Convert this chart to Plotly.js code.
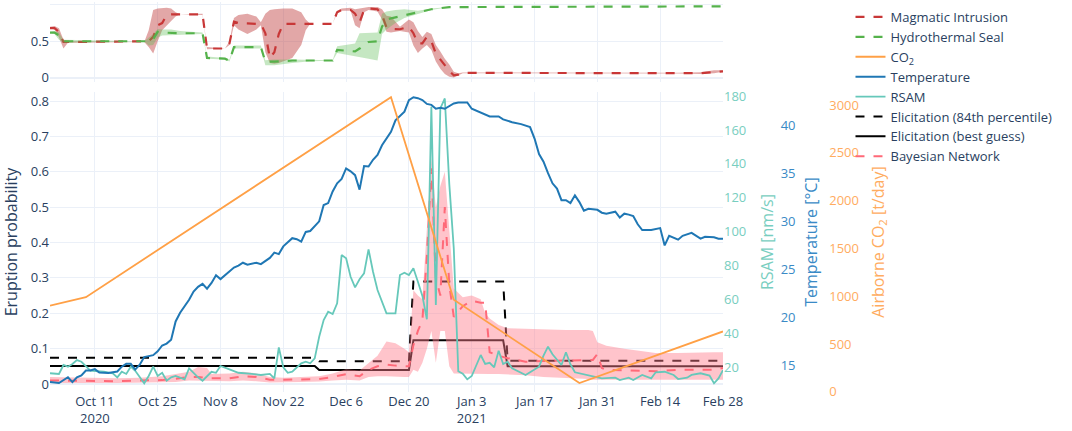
<!DOCTYPE html>
<html><head><meta charset="utf-8">
<script src="https://cdn.plot.ly/plotly-3.0.1.min.js"></script>
<style>html,body{margin:0;padding:0;background:#fff}</style>
</head><body>
<div id="chart" style="width:1072px;height:431px"></div>
<script>
// ---------- Top panel: hypotheses ----------
const magDates = ['2020-10-01','2020-10-02','2020-10-03','2020-10-04','2020-10-05','2020-10-22','2020-10-23','2020-10-24','2020-10-25','2020-10-26','2020-10-27','2020-10-28','2020-10-29','2020-10-30','2020-11-04','2020-11-05','2020-11-09','2020-11-10','2020-11-11','2020-11-12','2020-11-14','2020-11-16','2020-11-17','2020-11-18','2020-11-19','2020-11-20','2020-11-21','2020-11-22','2020-11-24','2020-11-26','2020-11-27','2020-11-28','2020-12-03','2020-12-04','2020-12-05','2020-12-07','2020-12-08','2020-12-09','2020-12-10','2020-12-11','2020-12-13','2020-12-14','2020-12-15','2020-12-16','2020-12-18','2020-12-20','2020-12-21','2020-12-22','2020-12-23','2020-12-24','2020-12-25','2020-12-26','2020-12-27','2020-12-28','2020-12-29','2020-12-30','2020-12-31','2021-01-01','2021-02-18','2021-02-23','2021-02-26','2021-02-28'];
const magMed = [0.68,0.68,0.63,0.49,0.49,0.49,0.50,0.56,0.72,0.75,0.86,0.87,0.87,0.87,0.87,0.40,0.40,0.47,0.77,0.75,0.74,0.74,0.74,0.61,0.27,0.35,0.60,0.74,0.74,0.74,0.74,0.74,0.74,0.90,0.93,0.93,0.88,0.76,0.93,0.95,0.94,0.86,0.69,0.67,0.665,0.70,0.61,0.47,0.47,0.56,0.50,0.33,0.25,0.17,0.09,0.03,0.04,0.065,0.06,0.06,0.075,0.085];
const magLo = [0.68,0.66,0.55,0.40,0.48,0.49,0.42,0.33,0.50,0.65,0.72,0.78,0.84,0.87,0.86,0.39,0.40,0.45,0.72,0.66,0.60,0.66,0.72,0.35,0.20,0.19,0.20,0.22,0.27,0.45,0.65,0.74,0.74,0.89,0.92,0.92,0.72,0.68,0.90,0.93,0.91,0.80,0.63,0.62,0.64,0.62,0.44,0.34,0.40,0.45,0.38,0.22,0.12,0.05,0.01,0.0,0.03,0.06,0.055,0.05,0.06,0.08];
const magHi = [0.70,0.71,0.68,0.52,0.50,0.49,0.65,0.93,0.95,0.96,0.96,0.95,0.90,0.87,0.88,0.42,0.40,0.50,0.82,0.86,0.88,0.84,0.76,0.88,0.93,0.94,0.95,0.95,0.95,0.90,0.80,0.74,0.74,0.92,0.95,0.96,0.94,0.95,0.97,0.97,0.97,0.94,0.85,0.84,0.70,0.80,0.76,0.64,0.56,0.63,0.60,0.45,0.36,0.26,0.18,0.08,0.06,0.07,0.065,0.075,0.10,0.10];

const hydDates = ['2020-10-01','2020-10-02','2020-10-03','2020-10-04','2020-10-22','2020-10-23','2020-10-24','2020-10-25','2020-10-26','2020-10-28','2020-10-30','2020-11-04','2020-11-05','2020-11-09','2020-11-10','2020-11-11','2020-11-17','2020-11-18','2020-11-20','2020-11-24','2020-11-28','2020-12-03','2020-12-04','2020-12-06','2020-12-08','2020-12-09','2020-12-11','2020-12-13','2020-12-14','2020-12-15','2020-12-17','2020-12-19','2020-12-22','2020-12-25','2020-12-29','2021-02-26','2021-02-28'];
const hydMed = [0.62,0.62,0.58,0.50,0.50,0.50,0.53,0.63,0.62,0.61,0.61,0.61,0.27,0.26,0.23,0.42,0.42,0.22,0.22,0.235,0.235,0.235,0.38,0.37,0.36,0.40,0.49,0.50,0.70,0.80,0.83,0.86,0.90,0.94,0.97,0.97,0.98];
const hydLo = [0.62,0.60,0.52,0.48,0.50,0.44,0.45,0.55,0.58,0.58,0.59,0.60,0.26,0.25,0.22,0.40,0.40,0.17,0.17,0.20,0.225,0.23,0.34,0.32,0.30,0.28,0.26,0.235,0.60,0.66,0.75,0.82,0.88,0.93,0.97,0.97,0.98];
const hydHi = [0.63,0.64,0.62,0.52,0.50,0.55,0.60,0.67,0.66,0.66,0.64,0.62,0.29,0.27,0.25,0.44,0.44,0.24,0.25,0.25,0.245,0.24,0.43,0.45,0.47,0.61,0.62,0.62,0.88,0.91,0.93,0.94,0.92,0.95,0.97,0.97,0.98];

// ---------- Main panel ----------
const co2Dates = ['2020-10-01','2020-10-09','2020-12-16','2020-12-30','2021-01-27','2021-02-28'];
const co2Vals = [900,990,3083,962,91,631];

const tempDates = ['2020-10-01','2020-10-03','2020-10-05','2020-10-06','2020-10-07','2020-10-08','2020-10-09','2020-10-10','2020-10-11','2020-10-12','2020-10-14','2020-10-16','2020-10-17','2020-10-18','2020-10-19','2020-10-20','2020-10-21','2020-10-22','2020-10-24','2020-10-25','2020-10-26','2020-10-27','2020-10-28','2020-10-29','2020-10-30','2020-10-31','2020-11-01','2020-11-02','2020-11-03','2020-11-04','2020-11-05','2020-11-06','2020-11-07','2020-11-08','2020-11-09','2020-11-10','2020-11-11','2020-11-12','2020-11-13','2020-11-14','2020-11-16','2020-11-17','2020-11-19','2020-11-20','2020-11-21','2020-11-22','2020-11-24','2020-11-25','2020-11-26','2020-11-27','2020-11-28','2020-11-30','2020-12-01','2020-12-02','2020-12-03','2020-12-04','2020-12-05','2020-12-06','2020-12-07','2020-12-08','2020-12-09','2020-12-10','2020-12-11','2020-12-12','2020-12-13','2020-12-14','2020-12-15','2020-12-16','2020-12-17','2020-12-18','2020-12-19','2020-12-20','2020-12-21','2020-12-22','2020-12-23','2020-12-24','2020-12-25','2020-12-26','2020-12-27','2020-12-28','2020-12-30','2020-12-31','2021-01-02','2021-01-03','2021-01-05','2021-01-06','2021-01-07','2021-01-09','2021-01-10','2021-01-12','2021-01-14','2021-01-16','2021-01-17','2021-01-18','2021-01-19','2021-01-20','2021-01-21','2021-01-22','2021-01-23','2021-01-24','2021-01-25','2021-01-26','2021-01-27','2021-01-28','2021-01-29','2021-01-31','2021-02-01','2021-02-02','2021-02-04','2021-02-05','2021-02-06','2021-02-07','2021-02-08','2021-02-09','2021-02-10','2021-02-12','2021-02-14','2021-02-15','2021-02-16','2021-02-18','2021-02-19','2021-02-21','2021-02-23','2021-02-24','2021-02-26','2021-02-27','2021-02-28'];
const tempVals = [13.3,13.2,13.8,13.3,13.8,14.0,14.5,14.5,14.65,14.3,14.25,14.4,14.9,15.2,15.2,14.6,15.1,15.9,16.1,16.5,17.1,17.3,17.7,19.6,20.5,21.15,21.85,22.7,23.2,23.5,23.0,23.6,24.4,24.0,24.4,24.8,25.2,25.4,25.7,25.5,25.7,25.55,26.2,26.75,26.6,27.4,28.25,28.15,27.9,28.9,29.0,30.0,31.7,31.9,33.1,33.95,34.4,35.5,35.2,34.8,33.3,35.75,35.7,36.4,36.9,37.9,38.6,39.3,40.5,41.0,41.4,42.6,42.9,42.8,42.6,42.2,42.1,41.7,41.8,41.7,42.25,42.35,42.35,41.7,41.3,41.1,40.9,40.9,40.6,40.3,40.1,39.8,38.6,37.0,36.2,35.0,33.95,33.4,32.2,32.2,31.9,32.7,32.0,31.1,31.3,31.2,30.9,30.8,31.0,30.4,30.8,30.7,30.55,29.7,29.1,29.1,29.3,27.5,28.5,28.1,28.5,28.8,28.2,28.4,28.35,28.2,28.2];

const rsamDates = ['2020-10-01','2020-10-03','2020-10-04','2020-10-05','2020-10-06','2020-10-07','2020-10-08','2020-10-09','2020-10-10','2020-10-13','2020-10-15','2020-10-16','2020-10-17','2020-10-18','2020-10-19','2020-10-20','2020-10-21','2020-10-22','2020-10-23','2020-10-24','2020-10-25','2020-10-26','2020-10-27','2020-10-28','2020-10-29','2020-10-31','2020-11-01','2020-11-03','2020-11-04','2020-11-06','2020-11-07','2020-11-08','2020-11-10','2020-11-11','2020-11-12','2020-11-15','2020-11-17','2020-11-19','2020-11-20','2020-11-21','2020-11-22','2020-11-23','2020-11-24','2020-11-26','2020-11-27','2020-11-28','2020-11-29','2020-11-30','2020-12-01','2020-12-02','2020-12-03','2020-12-04','2020-12-05','2020-12-06','2020-12-07','2020-12-08','2020-12-09','2020-12-10','2020-12-11','2020-12-12','2020-12-13','2020-12-15','2020-12-17','2020-12-18','2020-12-19','2020-12-20','2020-12-21','2020-12-22','2020-12-23','2020-12-24','2020-12-25','2020-12-26','2020-12-27','2020-12-28','2020-12-29','2020-12-30','2020-12-31','2021-01-01','2021-01-02','2021-01-03','2021-01-05','2021-01-06','2021-01-07','2021-01-08','2021-01-09','2021-01-10','2021-01-11','2021-01-12','2021-01-14','2021-01-15','2021-01-16','2021-01-17','2021-01-18','2021-01-19','2021-01-20','2021-01-21','2021-01-23','2021-01-24','2021-01-25','2021-01-26','2021-01-28','2021-01-30','2021-02-01','2021-02-04','2021-02-05','2021-02-07','2021-02-08','2021-02-10','2021-02-12','2021-02-13','2021-02-15','2021-02-17','2021-02-18','2021-02-20','2021-02-21','2021-02-23','2021-02-25','2021-02-26','2021-02-27','2021-02-28'];
const rsamVals = [16.3,15.9,21.2,20.2,21.8,24.1,23.1,20.2,17.8,17.2,16.3,13.9,17.2,15.9,20.2,17.8,13.9,10.4,14.7,20.2,14.7,16.6,11.9,13.9,14.7,12.7,19.2,13.9,11.9,17.2,16.6,20.6,18.6,17.8,16.6,15.9,15.3,15.9,13.3,31.6,19.8,16.6,17.2,22.2,23.1,22.2,25.1,37.9,47.7,52.6,51.3,57.6,86.1,84.2,73.3,67.0,71.8,75.3,89.5,76.3,65.5,51.7,51.7,74.3,75.7,74.3,78.3,70.4,62.0,48.2,173.7,56.6,172.7,178.6,128.0,90.0,17.5,16.0,12.7,14.7,27.1,21.8,22.5,19.8,29.6,21.8,23.1,19.2,16.5,15.3,16.9,18.6,20.2,26.7,32.0,27.5,21.2,28.7,21.6,16.9,15.7,14.3,13.3,13.7,12.3,13.7,12.3,15.3,13.3,16.9,17.2,15.3,12.9,13.7,15.3,16.3,14.9,10.4,13.3,18.2];

const elicDates = ['2020-10-01','2020-11-29','2020-11-30','2020-12-20','2020-12-21','2021-01-10','2021-01-11','2021-02-28'];
const elic84 = [0.074,0.074,0.064,0.064,0.290,0.290,0.066,0.066];
const elicBest = [0.051,0.051,0.0395,0.0395,0.124,0.124,0.050,0.050];

const bnDates = ['2020-10-01','2020-10-06','2020-10-11','2020-10-16','2020-10-21','2020-10-26','2020-10-29','2020-11-01','2020-11-03','2020-11-05','2020-11-06','2020-11-10','2020-11-13','2020-11-16','2020-11-19','2020-11-22','2020-11-26','2020-11-30','2020-12-03','2020-12-06','2020-12-09','2020-12-11','2020-12-13','2020-12-15','2020-12-17','2020-12-19','2020-12-20','2020-12-21','2020-12-22','2020-12-23','2020-12-24','2020-12-25','2020-12-26','2020-12-27','2020-12-28','2020-12-29','2020-12-30','2021-01-01','2021-01-03','2021-01-05','2021-01-06','2021-01-07','2021-01-09','2021-01-11','2021-01-15','2021-01-19','2021-01-24','2021-01-29','2021-01-30','2021-01-31','2021-02-01','2021-02-02','2021-02-06','2021-02-10','2021-02-13','2021-02-18','2021-02-22','2021-02-26','2021-02-28'];
const bnMed = [0.010,0.009,0.008,0.008,0.010,0.011,0.015,0.020,0.020,0.018,0.016,0.016,0.022,0.020,0.012,0.012,0.013,0.014,0.020,0.028,0.022,0.040,0.050,0.055,0.052,0.050,0.050,0.110,0.150,0.180,0.360,0.610,0.300,0.250,0.500,0.280,0.190,0.220,0.235,0.230,0.230,0.090,0.080,0.073,0.063,0.065,0.066,0.068,0.068,0.085,0.045,0.040,0.038,0.036,0.036,0.040,0.040,0.040,0.045];
const bnLo = [0.003,0.003,0.003,0.003,0.004,0.005,0.006,0.010,0.010,0.010,0.008,0.008,0.010,0.008,0.004,0.005,0.006,0.007,0.010,0.012,0.010,0.020,0.022,0.022,0.022,0.020,0.020,0.040,0.035,0.060,0.100,0.150,0.060,0.150,0.150,0.050,0.030,0.030,0.030,0.030,0.028,0.028,0.028,0.028,0.025,0.020,0.016,0.014,0.012,0.012,0.012,0.012,0.012,0.010,0.010,0.010,0.012,0.012,0.012];
const bnHi = [0.020,0.018,0.016,0.016,0.018,0.022,0.028,0.035,0.048,0.045,0.028,0.030,0.035,0.030,0.020,0.018,0.020,0.022,0.030,0.042,0.038,0.060,0.080,0.120,0.115,0.100,0.090,0.265,0.250,0.240,0.450,0.640,0.500,0.560,0.600,0.420,0.270,0.245,0.250,0.240,0.200,0.185,0.167,0.158,0.156,0.155,0.153,0.153,0.150,0.118,0.112,0.108,0.100,0.092,0.088,0.088,0.090,0.090,0.090];

// ---------- styling ----------
const C = {
  mag: 'rgb(200,55,55)', magFill: 'rgba(190,60,60,0.45)',
  hyd: 'rgb(85,178,75)', hydFill: 'rgba(90,185,80,0.35)',
  co2: 'rgb(255,160,70)', temp: 'rgb(31,119,180)', rsam: 'rgb(102,200,186)',
  bn: 'rgb(255,105,120)', bnFill: 'rgba(255,125,140,0.45)',
  grid: '#EBF0F8', text: '#2a3f5f'
};

function band(x, lo, hi, xa, ya, color) {
  return {
    x: x.concat(x.slice().reverse()),
    y: hi.concat(lo.slice().reverse()),
    xaxis: xa, yaxis: ya, type: 'scatter', mode: 'lines',
    fill: 'toself', fillcolor: color, line: {width: 0},
    hoverinfo: 'skip', showlegend: false
  };
}

const traces = [
  band(magDates, magLo, magHi, 'x2', 'y2', C.magFill),
  {x: magDates, y: magMed, xaxis: 'x2', yaxis: 'y2', type: 'scatter', mode: 'lines',
   name: 'Magmatic Intrusion', line: {color: C.mag, width: 2.2, dash: 'dash'}},
  band(hydDates, hydLo, hydHi, 'x2', 'y2', C.hydFill),
  {x: hydDates, y: hydMed, xaxis: 'x2', yaxis: 'y2', type: 'scatter', mode: 'lines',
   name: 'Hydrothermal Seal', line: {color: C.hyd, width: 2.2, dash: 'dash'}},
  {x: co2Dates, y: co2Vals, xaxis: 'x', yaxis: 'y5', type: 'scatter', mode: 'lines',
   name: 'CO<sub>2</sub>', line: {color: C.co2, width: 1.8}},
  {x: tempDates, y: tempVals, xaxis: 'x', yaxis: 'y4', type: 'scatter', mode: 'lines',
   name: 'Temperature', line: {color: C.temp, width: 2}},
  {x: rsamDates, y: rsamVals, xaxis: 'x', yaxis: 'y3', type: 'scatter', mode: 'lines',
   name: 'RSAM', line: {color: C.rsam, width: 1.8}},
  {x: elicDates, y: elic84, xaxis: 'x', yaxis: 'y', type: 'scatter', mode: 'lines',
   name: 'Elicitation (84th percentile)', line: {color: 'black', width: 2, dash: 'dash'}},
  {x: elicDates, y: elicBest, xaxis: 'x', yaxis: 'y', type: 'scatter', mode: 'lines',
   name: 'Elicitation (best guess)', line: {color: 'black', width: 2}},
  band(bnDates, bnLo, bnHi, 'x', 'y', C.bnFill),
  {x: bnDates, y: bnMed, xaxis: 'x', yaxis: 'y', type: 'scatter', mode: 'lines',
   name: 'Bayesian Network', line: {color: C.bn, width: 2, dash: 'dash'}}
];

const xBase = {
  type: 'date', range: ['2020-10-01', '2021-02-28'],
  tick0: '2020-10-11', dtick: 14 * 86400000,
  gridcolor: C.grid, showline: false, zeroline: false, ticks: '',
  tickfont: {size: 13, color: C.text}
};
const rightAx = (color, title, standoff, extra) => Object.assign({
  overlaying: 'y', side: 'right', showgrid: false, zeroline: false, ticks: '',
  tickfont: {size: 13, color: color},
  title: {text: title, font: {size: 16, color: color}, standoff: standoff}
}, extra);

const layout = {
  width: 1072, height: 431,
  margin: {l: 50, r: 10, t: 2, b: 39},
  paper_bgcolor: 'white', plot_bgcolor: 'white',
  font: {family: '"Open Sans", verdana, arial, sans-serif', color: C.text, size: 13},
  showlegend: true,
  legend: {x: 0.791, y: 1.0, xanchor: 'left', yanchor: 'top', font: {size: 13, color: C.text}, bgcolor: 'rgba(0,0,0,0)'},
  xaxis: Object.assign({}, xBase, {domain: [0, 0.665], anchor: 'y'}),
  xaxis2: Object.assign({}, xBase, {domain: [0, 0.665], anchor: 'y2', matches: 'x', showticklabels: false}),
  yaxis: {domain: [0, 0.769], range: [-0.0226, 0.8254], dtick: 0.1, anchor: 'x',
          gridcolor: C.grid, zeroline: true, zerolinecolor: C.grid, zerolinewidth: 2, ticks: '',
          tickfont: {size: 13, color: C.text},
          title: {text: 'Eruption probability', font: {size: 16, color: C.text}}},
  yaxis2: {domain: [0.795, 1], range: [-0.06, 1.04], tickvals: [0, 0.5, 1], ticktext: ['0', '0.5', '1'], anchor: 'x2',
           gridcolor: C.grid, zeroline: true, zerolinecolor: C.grid, zerolinewidth: 2, ticks: '',
           tickfont: {size: 13, color: C.text}},
  yaxis3: rightAx('rgb(120,206,192)', 'RSAM [nm/s]', 16, {anchor: 'x', range: [5.24, 182.36], dtick: 20}),
  yaxis4: rightAx('rgb(58,138,198)', 'Temperature [°C]', 11, {anchor: 'free', position: 0.721, range: [12.27, 43.43], dtick: 5}),
  yaxis5: rightAx('rgb(255,172,95)', 'Airborne CO<sub>2</sub> [t/day]', 14, {anchor: 'free', position: 0.769, range: [-3, 3136], dtick: 500})
};

Plotly.newPlot('chart', traces, layout, {displayModeBar: false, responsive: false});
</script>
</body></html>
